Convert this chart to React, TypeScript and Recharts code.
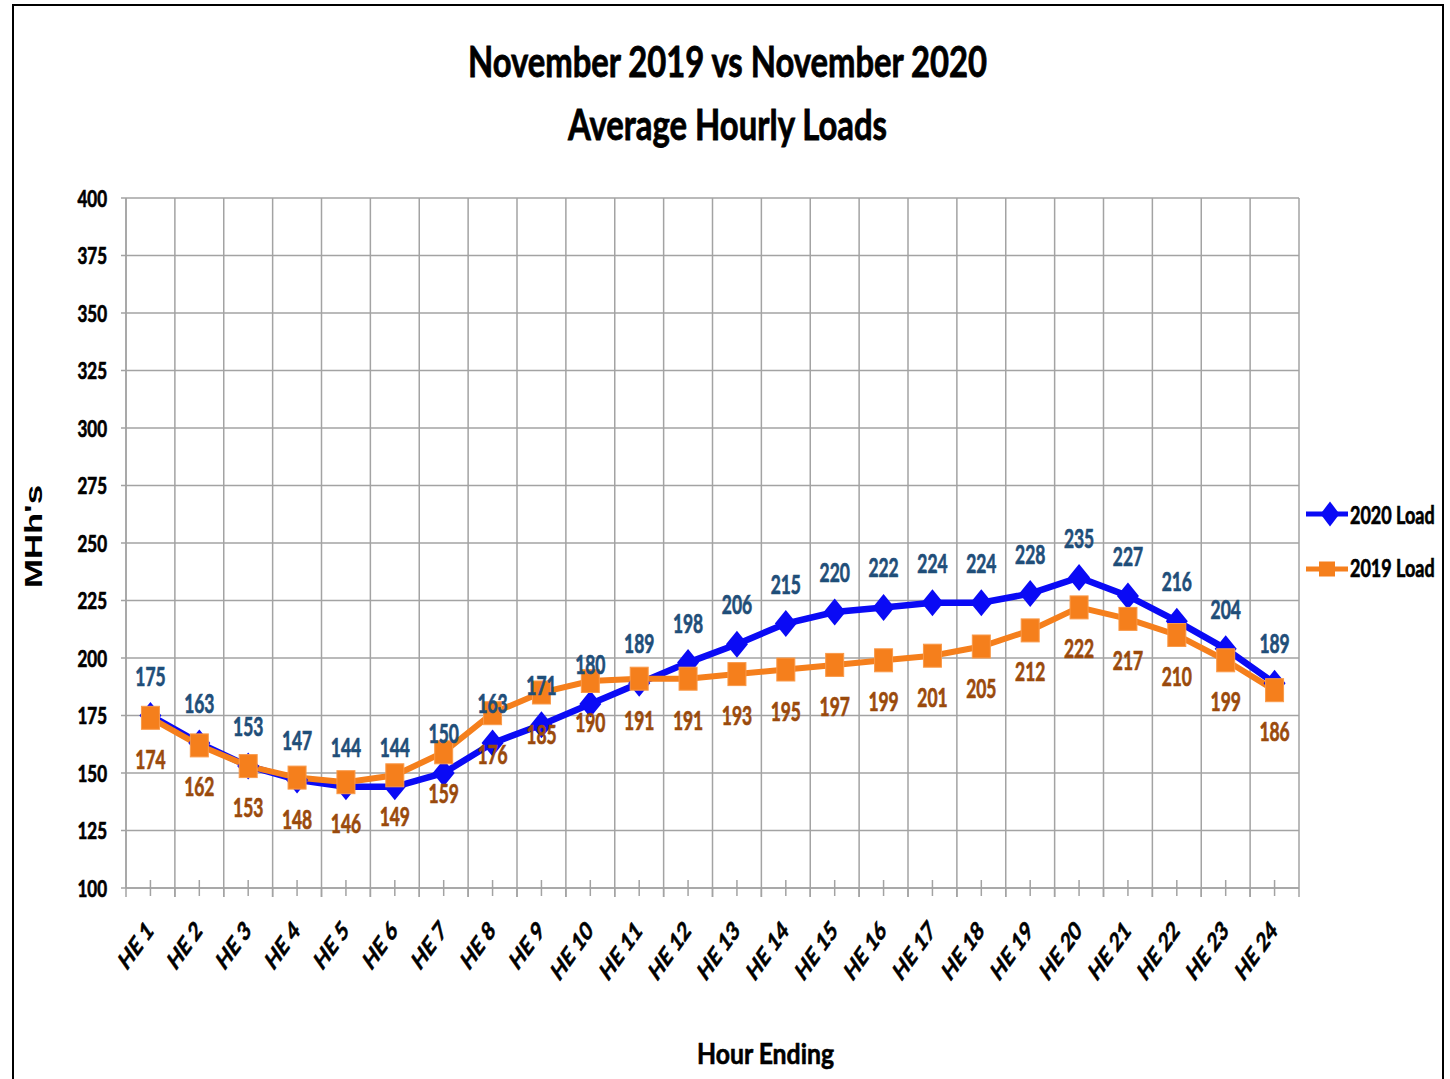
import React from 'react';
import { LineChart, Line, XAxis, YAxis, CartesianGrid, LabelList } from 'recharts';

const hours = ['HE 1','HE 2','HE 3','HE 4','HE 5','HE 6','HE 7','HE 8','HE 9','HE 10','HE 11','HE 12','HE 13','HE 14','HE 15','HE 16','HE 17','HE 18','HE 19','HE 20','HE 21','HE 22','HE 23','HE 24'];
const load2020 = [175,163,153,147,144,144,150,163,171,180,189,198,206,215,220,222,224,224,228,235,227,216,204,189];
const load2019 = [174,162,153,148,146,149,159,176,185,190,191,191,193,195,197,199,201,205,212,222,217,210,199,186];
const yTicks = [100,125,150,175,200,225,250,275,300,325,350,375,400];

const data = hours.map((h, i) => ({ hour: h, l2020: load2020[i], l2019: load2019[i] }));

const SANS = "Lato, 'Open Sans', 'Noto Sans', sans-serif";
const BLUE = '#0a0af5';
const ORANGE = '#f57f1c';
const BLUE_LBL = '#1f4e79';
const ORANGE_LBL = '#9a4a0c';
const GRID = '#a3a3a3';

const SText = (p: any) => {
  const { x, y, size, sx, anchor = 'middle', fill = '#000', rotate, children } = p;
  return (
    <text transform={`translate(${x} ${y}) scale(${sx} 1)${rotate ? ` rotate(${rotate})` : ''}`}
      x={0} y={0} textAnchor={anchor} fontFamily={SANS} fontWeight="bold" fontSize={size} fill={fill}
      stroke={fill} strokeWidth={0.7}>{children}</text>
  );
};

const Diamond = (p: any) => {
  const { cx, cy } = p;
  if (cx == null || cy == null) return null;
  return <polygon points={`${cx},${cy - 13.5} ${cx + 11},${cy} ${cx},${cy + 13.5} ${cx - 11},${cy}`} fill={BLUE} />;
};
const Square = (p: any) => {
  const { cx, cy } = p;
  if (cx == null || cy == null) return null;
  return <rect x={cx - 9} y={cy - 11.5} width={18} height={23} fill={ORANGE} stroke="#f99a4a" strokeWidth={1} />;
};

const BlueLabel = (p: any) => (
  <SText x={p.x} y={p.y - 30} size={26} sx={0.67} fill={BLUE_LBL}>{p.value}</SText>
);
const OrangeLabel = (p: any) => (
  <SText x={p.x} y={p.y + 51} size={26} sx={0.67} fill={ORANGE_LBL}>{p.value}</SText>
);

const XTick = (props: any) => {
  const { x, y, payload, width, visibleTicksCount } = props;
  const half = width && visibleTicksCount ? width / visibleTicksCount / 2 : 24.44;
  return (
    <g>
      <line x1={x} x2={x} y1={y - 8} y2={y + 8} stroke={GRID} strokeWidth={1.5} />
      <line x1={x - half} x2={x - half} y1={y} y2={y + 9} stroke={GRID} strokeWidth={1.5} />
      <line x1={x + half} x2={x + half} y1={y} y2={y + 9} stroke={GRID} strokeWidth={1.5} />
      <SText x={x + 4} y={y + 44} size={26} sx={0.7} rotate={-45} anchor="end">{payload.value}</SText>
    </g>
  );
};

const YTick = (props: any) => {
  const { x, y, payload } = props;
  return <SText x={x} y={y + 8.5} size={23} sx={0.74} anchor="end">{payload.value}</SText>;
};

export default function App() {
  return (
    <div style={{ position: 'fixed', left: 0, top: 0, width: 1450, height: 1079, overflow: 'hidden', background: '#fff' }}>
      <div style={{ position: 'absolute', left: 12, top: 4, width: 1432, height: 1200, border: '2px solid #000', boxSizing: 'border-box' }} />
      <div style={{ position: 'absolute', left: 0, top: 0 }}>
        <LineChart width={1450} height={1079} data={data}
          margin={{ top: 198, right: 151, bottom: 131, left: 66 }}>
          <CartesianGrid stroke={GRID} strokeWidth={1.5}
            verticalCoordinatesGenerator={(args: any) => {
              const o = args.offset;
              return hours.map((_, i) => o.left + (i * o.width) / hours.length).concat([o.left + o.width]);
            }} />
          <XAxis dataKey="hour" type="category" interval={0} height={60}
            padding={{ left: 1173 / 48, right: 1173 / 48 }}
            tickLine={false} tickSize={0} tickMargin={0}
            axisLine={{ stroke: GRID, strokeWidth: 1.5 }} tick={<XTick />} />
          <YAxis type="number" domain={[100, 400]} ticks={yTicks} interval={0} width={60}
            tickSize={5} tickMargin={14} tickLine={{ stroke: GRID, strokeWidth: 1.5 }}
            axisLine={{ stroke: GRID, strokeWidth: 1.5 }} tick={<YTick />} />
          <Line dataKey="l2020" name="2020 Load" stroke={BLUE} strokeWidth={6.5} isAnimationActive={false}
            dot={(p: any) => <Diamond key={`d${p.index}`} {...p} />} activeDot={false}>
            <LabelList dataKey="l2020" content={<BlueLabel />} />
          </Line>
          <Line dataKey="l2019" name="2019 Load" stroke={ORANGE} strokeWidth={6} isAnimationActive={false}
            dot={(p: any) => <Square key={`s${p.index}`} {...p} />} activeDot={false}>
            <LabelList dataKey="l2019" content={<OrangeLabel />} />
          </Line>
        </LineChart>
      </div>
      <svg width={1450} height={1079} style={{ position: 'absolute', left: 0, top: 0, pointerEvents: 'none' }}>
        <text x={727.5} y={77} textAnchor="middle" fontFamily={SANS} fontWeight="bold" fontSize={42}
          stroke="#000" strokeWidth={0.8}
          textLength={519} lengthAdjust="spacingAndGlyphs">November 2019 vs November 2020</text>
        <text x={727.5} y={140} textAnchor="middle" fontFamily={SANS} fontWeight="bold" fontSize={42}
          stroke="#000" strokeWidth={0.8}
          textLength={319} lengthAdjust="spacingAndGlyphs">Average Hourly Loads</text>
        <text x={765.5} y={1064} textAnchor="middle" fontFamily={SANS} fontWeight="bold" fontSize={28}
          stroke="#000" strokeWidth={0.6}
          textLength={137} lengthAdjust="spacingAndGlyphs">Hour Ending</text>
        <text transform="translate(42 536.5) rotate(-90)" x={0} y={0} textAnchor="middle"
          fontFamily="'Liberation Sans', Arial, sans-serif" fontWeight="bold" fontSize={24}
          textLength={103} lengthAdjust="spacingAndGlyphs">MHh's</text>
        <line x1={1306} x2={1348} y1={514} y2={514} stroke={BLUE} strokeWidth={5} />
        <polygon points={`1330,501.5 1339.5,514 1330,526.5 1320.5,514`} fill={BLUE} />
        <SText x={1350} y={524} size={25} sx={0.72} anchor="start">2020 Load</SText>
        <line x1={1306} x2={1348} y1={569} y2={569} stroke={ORANGE} strokeWidth={5} />
        <rect x={1319} y={561.5} width={16} height={15} fill={ORANGE} />
        <SText x={1350} y={577} size={25} sx={0.72} anchor="start">2019 Load</SText>
      </svg>
    </div>
  );
}
